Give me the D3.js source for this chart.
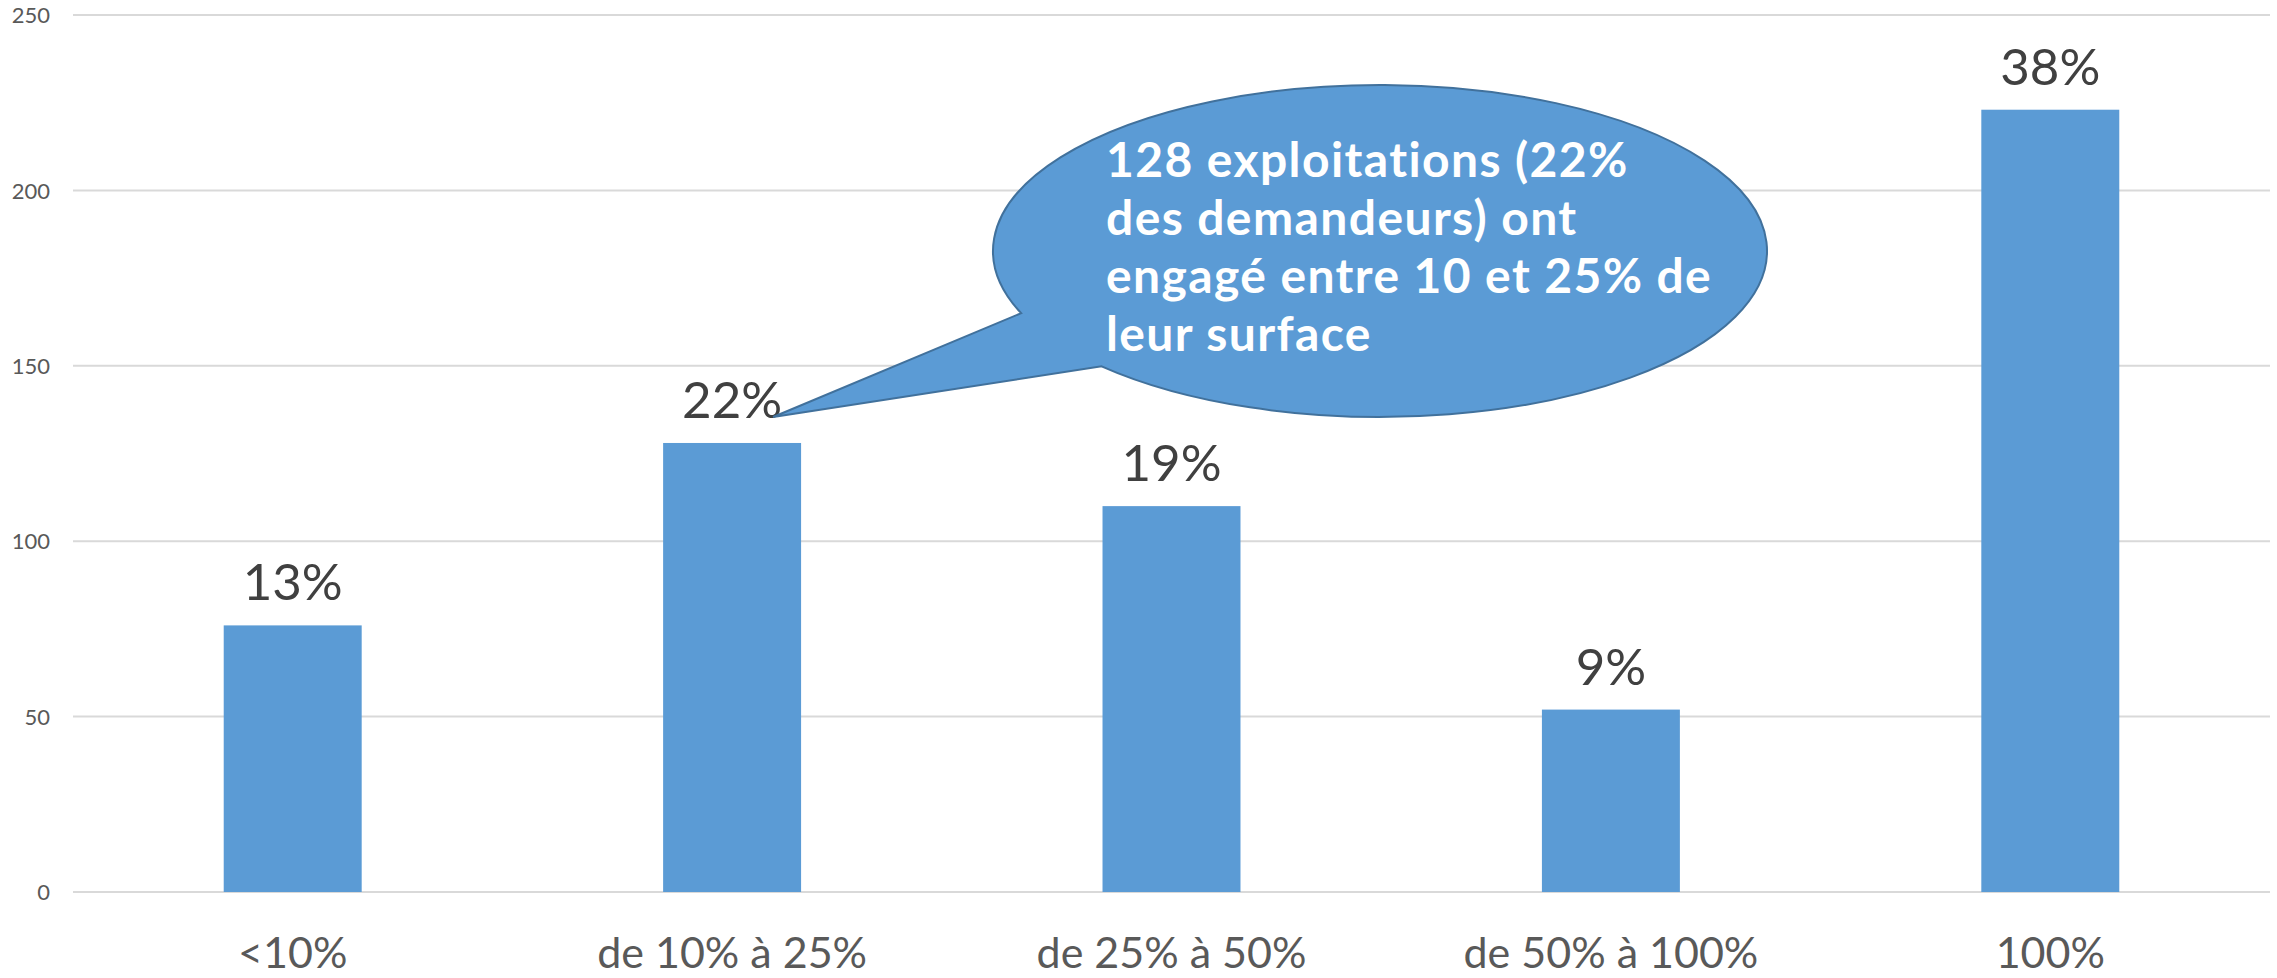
<!DOCTYPE html>
<html>
<head>
<meta charset="utf-8">
<script src="https://cdn.jsdelivr.net/npm/d3@7"></script>
<style>
  html, body { margin: 0; padding: 0; background: #ffffff; }
  svg { display: block; }
  text { font-variant-ligatures: none; font-feature-settings: "liga" 0, "clig" 0; }
</style>
</head>
<body>
<svg id="chart" width="2277" height="978"></svg>
<script>
// ---- data ----
const categories = ["<10%", "de 10% à 25%", "de 25% à 50%", "de 50% à 100%", "100%"];
const values = [76, 128, 110, 52, 223];
const percentLabels = ["13%", "22%", "19%", "9%", "38%"];
const yTicks = [0, 50, 100, 150, 200, 250];
const calloutLines = [
  "128 exploitations (22%",
  "des demandeurs) ont",
  "engagé entre 10 et 25% de",
  "leur surface"
];
const calloutCategory = "de 10% à 25%";

// ---- layout ----
const W = 2277, H = 978;
const plot = { left: 73, right: 2270, top: 15, bottom: 892 };
const blue = "#5b9bd5";

const svg = d3.select("#chart");

const x = d3.scaleBand()
  .domain(categories)
  .range([plot.left, plot.right])
  .paddingInner(0.686)
  .paddingOuter(0.343);

const y = d3.scaleLinear()
  .domain([0, 250])
  .range([plot.bottom, plot.top]);

// gridlines
svg.append("g")
  .selectAll("line")
  .data(yTicks)
  .join("line")
  .attr("x1", plot.left)
  .attr("x2", plot.right)
  .attr("y1", d => y(d))
  .attr("y2", d => y(d))
  .attr("stroke", "#d9d9d9")
  .attr("stroke-width", 2);

// y axis labels
const yAxis = d3.axisLeft(y).tickValues(yTicks).tickSize(0).tickPadding(0);
const yg = svg.append("g")
  .attr("transform", `translate(50,0)`)
  .call(yAxis);
yg.select(".domain").remove();
yg.selectAll("text")
  .attr("font-family", "Lato, 'Open Sans', sans-serif")
  .attr("font-size", 22)
  .attr("fill", "#595959")
  .attr("dy", "0.35em");

// bars
svg.append("g")
  .selectAll("rect")
  .data(values)
  .join("rect")
  .attr("x", (d, i) => x(categories[i]))
  .attr("y", d => y(d))
  .attr("width", x.bandwidth())
  .attr("height", d => y(0) - y(d))
  .attr("fill", blue);

// data labels
svg.append("g")
  .selectAll("text")
  .data(values)
  .join("text")
  .attr("x", (d, i) => x(categories[i]) + x.bandwidth() / 2)
  .attr("y", d => y(d) - 25)
  .attr("text-anchor", "middle")
  .attr("font-family", "Lato, 'Open Sans', sans-serif")
  .attr("font-size", 51)
  .attr("fill", "#404040")
  .text((d, i) => percentLabels[i]);

// x axis labels
const xAxis = d3.axisBottom(x).tickSize(0).tickPadding(0);
const xg = svg.append("g")
  .attr("transform", `translate(0,${plot.bottom})`)
  .call(xAxis);
xg.select(".domain").remove();
xg.selectAll("text")
  .attr("font-family", "Lato, 'Open Sans', sans-serif")
  .attr("font-size", 43)
  .attr("fill", "#595959")
  .attr("dy", null)
  .attr("y", 76);

// callout
const ci = categories.indexOf(calloutCategory);
const tip = [x(calloutCategory) + x.bandwidth() / 2 + 41, y(values[ci]) - 26];
const ell = { cx: 1380, cy: 251, rx: 387, ry: 166 };
const pt = a => [ell.cx + ell.rx * Math.cos(a * Math.PI / 180), ell.cy + ell.ry * Math.sin(a * Math.PI / 180)];
const pLow = pt(136), pUp = pt(158);
const path = `M${tip[0]},${tip[1]} L${pLow[0]},${pLow[1]} A${ell.rx},${ell.ry} 0 1 0 ${pUp[0]},${pUp[1]} Z`;
svg.append("path")
  .attr("d", path)
  .attr("fill", blue)
  .attr("stroke", "#41719c")
  .attr("stroke-width", 2)
  .attr("stroke-linejoin", "miter");

svg.append("g")
  .selectAll("text")
  .data(calloutLines)
  .join("text")
  .attr("x", 1106)
  .attr("y", (d, i) => 177 + i * 58)
  .attr("font-family", "Lato, 'Open Sans', sans-serif")
  .attr("font-weight", "bold")
  .attr("font-size", 48)
  .attr("letter-spacing", 1.4)
  .attr("fill", "#ffffff")
  .text(d => d);
</script>
</body>
</html>
